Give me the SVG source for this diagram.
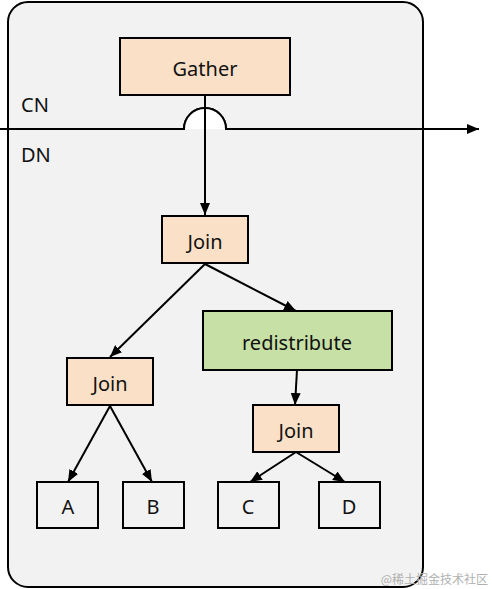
<svg xmlns="http://www.w3.org/2000/svg" width="492" height="589" viewBox="0 0 492 589">
<style>
.box{stroke:#000;stroke-width:2}
.op{fill:#fbe0c8}
.rd{fill:#c6e0a6}
.leaf{fill:#f2f2f2}
.t{font-family:"Noto Sans","Open Sans",sans-serif;font-size:20px;fill:#111;text-anchor:middle;dominant-baseline:central}
.lbl{font-family:"Noto Sans","Open Sans",sans-serif;font-size:20px;fill:#111}
.c{stroke:#000;stroke-width:2;fill:none}
</style>
<defs>
<marker id="ah" viewBox="0 0 12 10" refX="12" refY="5" markerWidth="12" markerHeight="10" markerUnits="userSpaceOnUse" orient="auto">
<path d="M0,0 L12,5 L0,10 Z" fill="#000"/>
</marker>
</defs>
<rect x="8" y="2" width="415" height="585" rx="20" ry="20" fill="#f2f2f2" stroke="#000" stroke-width="2"/>
<text class="lbl" x="21" y="112">CN</text>
<text class="lbl" x="21" y="162">DN</text>
<g id="connectors">
<path class="c" d="M0,129 H184 A21,21 0 0 1 226,129 H479" marker-end="url(#ah)"/>
<path d="M184,129 A21,21 0 0 1 226,129 Z" fill="#fff"/>
<path class="c" d="M184,129 A21,21 0 0 1 226,129"/>
<line class="c" x1="205" y1="95" x2="205" y2="215" marker-end="url(#ah)"/>
<line class="c" x1="205" y1="264" x2="110" y2="357" marker-end="url(#ah)"/>
<line class="c" x1="205" y1="264" x2="296" y2="311" marker-end="url(#ah)"/>
<line class="c" x1="297" y1="370" x2="295" y2="405" marker-end="url(#ah)"/>
<line class="c" x1="110" y1="406" x2="68" y2="482" marker-end="url(#ah)"/>
<line class="c" x1="110" y1="406" x2="152" y2="482" marker-end="url(#ah)"/>
<line class="c" x1="296" y1="452" x2="250" y2="482" marker-end="url(#ah)"/>
<line class="c" x1="296" y1="452" x2="345" y2="482" marker-end="url(#ah)"/>
</g>
<g id="gather"><rect class="box op" x="120" y="38" width="170" height="57"/><text class="t" x="205" y="68">Gather</text></g>
<g id="join1"><rect class="box op" x="162" y="216" width="86" height="47"/><text class="t" x="205" y="241">Join</text></g>
<g id="redistribute"><rect class="box rd" x="203" y="311" width="189" height="59"/><text class="t" x="297" y="342">redistribute</text></g>
<g id="join2"><rect class="box op" x="67" y="358" width="86" height="47"/><text class="t" x="110" y="383">Join</text></g>
<g id="join3"><rect class="box op" x="253" y="405" width="86" height="47"/><text class="t" x="296" y="430">Join</text></g>
<g id="a"><rect class="box leaf" x="37" y="482" width="61" height="46"/><text class="t" x="68" y="506">A</text></g>
<g id="b"><rect class="box leaf" x="123" y="482" width="61" height="46"/><text class="t" x="153" y="506">B</text></g>
<g id="c"><rect class="box leaf" x="218" y="482" width="61" height="46"/><text class="t" x="248" y="506">C</text></g>
<g id="d"><rect class="box leaf" x="319" y="482" width="61" height="46"/><text class="t" x="349" y="506">D</text></g>
<text x="488" y="584" font-family="'Noto Sans CJK SC',sans-serif" font-size="12" fill="#b0b0b0" text-anchor="end">@稀土掘金技术社区</text>
</svg>
